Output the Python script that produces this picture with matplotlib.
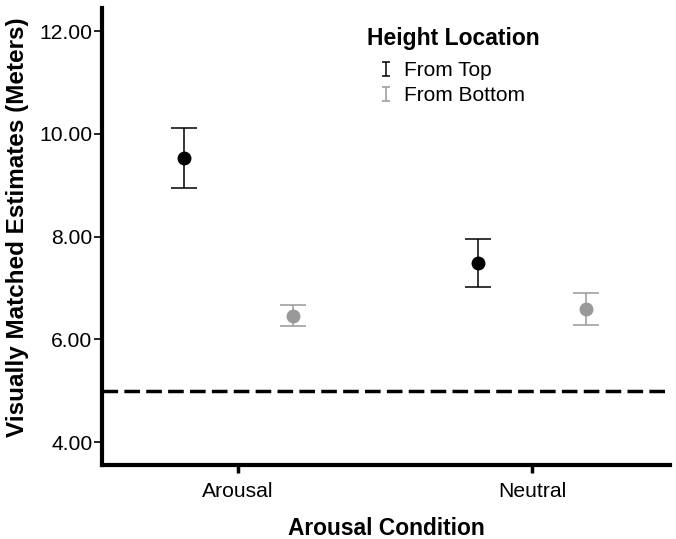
import matplotlib.pyplot as plt
from matplotlib.legend_handler import HandlerErrorbar
import numpy as np

plt.rcParams['font.family'] = ['Liberation Sans', 'DejaVu Sans']

conditions = ['Arousal', 'Neutral']
groups = ['From Top', 'From Bottom']
means_top = [9.53, 7.49]
lower_top = [8.95, 7.02]
upper_top = [10.11, 7.95]
means_bottom = [6.46, 6.59]
lower_bottom = [6.25, 6.28]
upper_bottom = [6.66, 6.90]
reference_height = 5.0

colors = ['black', '#999999']
offset = 0.185

fig = plt.figure(figsize=(6.76, 5.39), dpi=100)
ax = fig.add_axes([0.151, 0.137, 0.840, 0.848])

x = np.arange(len(conditions))
series = [(means_top, lower_top, upper_top), (means_bottom, lower_bottom, upper_bottom)]
for i, (m, lo, hi) in enumerate(series):
    m = np.array(m)
    err = [m - np.array(lo), np.array(hi) - m]
    ax.errorbar(x + (2 * i - 1) * offset, m, yerr=err, fmt='o', color=colors[i],
                ecolor=colors[i], markersize=9, elinewidth=1.1, capsize=9.7,
                capthick=1.1)

ax.axhline(reference_height, color='black', linewidth=2.5, dashes=(4.5, 1.8))

# legend proxies: just the error bar glyph
handles = []
for i, g in enumerate(groups):
    h = ax.errorbar([np.nan], [np.nan], yerr=[[0.1]], fmt='none', ecolor=colors[i],
                    elinewidth=1.1, capsize=3, capthick=1.1, label=g)
    handles.append(h)
leg = ax.legend(handles=handles, labels=groups, title='Height Location',
                frameon=False, loc='upper left', bbox_to_anchor=(0.515, 0.985),
                bbox_transform=fig.transFigure, fontsize=15, handlelength=0.5,
                handletextpad=0.6, labelspacing=0.3,
                handler_map={type(handles[0]): HandlerErrorbar(yerr_size=0.34)})
leg.get_title().set_fontsize(16.5)
leg.get_title().set_fontweight('bold')
leg._legend_box.sep = 8

ax.set_xlim(-0.463, 1.469)
ax.set_ylim(3.55, 12.45)
ax.set_yticks([4, 6, 8, 10, 12])
ax.set_yticklabels(['4.00', '6.00', '8.00', '10.00', '12.00'])
ax.set_xticks(x)
ax.set_xticklabels(conditions)

for s in ['top', 'right']:
    ax.spines[s].set_visible(False)
for s in ['left', 'bottom']:
    ax.spines[s].set_linewidth(3)
ax.tick_params(axis='y', labelsize=15.2, length=6, width=1.2, pad=1)
ax.tick_params(axis='x', labelsize=15.2, length=6, width=2.5, pad=6)

ax.set_xlabel('Arousal Condition', fontsize=16.4, fontweight='bold', labelpad=12)
ax.set_ylabel('Visually Matched Estimates (Meters)', fontsize=17.5, fontweight='bold')
ax.yaxis.set_label_coords(-0.128, 0.52)

fig.savefig('out.png', dpi=100)
